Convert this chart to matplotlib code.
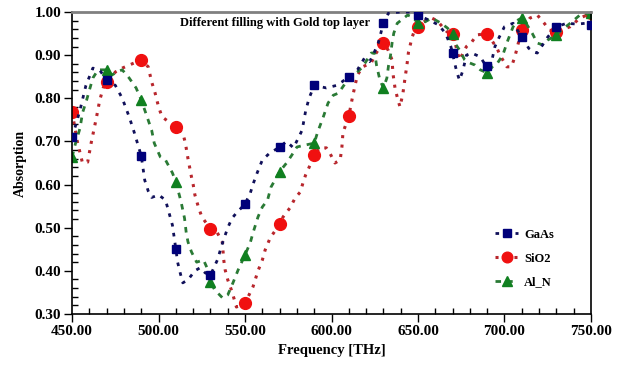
import numpy as np
import matplotlib
matplotlib.use("Agg")
from matplotlib import pyplot as plt
from matplotlib.ticker import MultipleLocator, FormatStrFormatter

# data (frequency in THz, absorption)
gaas_f = [450, 453, 455, 458, 462, 466, 470, 475, 479, 483, 486, 490, 492, 494, 496,
          500, 504, 506, 508, 510, 511, 512.5, 514, 517, 521, 524, 527, 530, 534, 537,
          540, 542.5, 545, 550, 553, 555, 557, 560, 564, 570, 574, 578, 583, 585, 587,
          590, 597, 603, 606, 610, 615, 619, 622, 624, 627, 628.5, 630, 633, 640, 646,
          650, 657, 662, 666, 669, 670, 671, 672.5, 674, 676, 678, 681, 686, 689, 690,
          691, 693, 694.5, 697, 700, 705, 710, 712, 714, 717, 719, 725, 730, 736, 742,
          747, 750]
gaas_v = [0.71, 0.75, 0.78, 0.83, 0.87, 0.865, 0.842, 0.83, 0.80, 0.757, 0.72, 0.666, 0.61, 0.585, 0.57,
          0.576, 0.564, 0.535, 0.506, 0.45, 0.42, 0.395, 0.372, 0.379, 0.40, 0.407, 0.395, 0.39, 0.425, 0.465,
          0.50, 0.522, 0.534, 0.555, 0.58, 0.605, 0.627, 0.657, 0.672, 0.687, 0.70, 0.685, 0.726, 0.77, 0.80,
          0.83, 0.824, 0.83, 0.838, 0.85, 0.866, 0.893, 0.885, 0.90, 0.928, 0.951, 0.975, 0.998, 1.0, 1.0,
          0.993, 0.98, 0.97, 0.95, 0.92, 0.905, 0.885, 0.86, 0.842, 0.865, 0.90, 0.905, 0.896, 0.877, 0.875,
          0.86, 0.893, 0.92, 0.942, 0.966, 0.974, 0.942, 0.93, 0.916, 0.907, 0.905, 0.942, 0.966, 0.974, 0.972,
          0.974, 0.97]

sio2_f = [450, 453, 456, 459, 461, 464, 466, 468, 470, 473, 475, 479, 483, 490, 494,
          496, 498, 500, 502, 510, 514, 515.5, 517, 519, 520, 521, 523, 525, 530, 534,
          537, 537.5, 538.5, 540, 542.5, 545, 550, 554.6, 557.5, 560, 561.6, 564.5, 570, 572,
          576, 579, 582, 583.5, 585, 587.6, 590, 593, 597, 599, 602, 605, 606, 606.6,
          610, 612, 613.6, 615, 618, 623, 625, 627, 630, 632.7, 635, 635.5, 636.7, 638.4,
          639.6, 641.3, 642.5, 643.6, 644.5, 646.5, 648, 650, 653, 658, 661, 666.8, 670,
          674, 678, 681, 684, 690, 695.7, 697.4, 701.4, 704, 706, 707, 708, 710, 714.7,
          719, 723, 726, 730, 738, 743.6, 750]
sio2_v = [0.768, 0.70, 0.65, 0.652, 0.696, 0.754, 0.796, 0.824, 0.838, 0.85, 0.861, 0.870, 0.877, 0.889, 0.873,
          0.838, 0.812, 0.78, 0.757, 0.733, 0.72, 0.696, 0.66, 0.618, 0.60, 0.576, 0.548, 0.525, 0.497, 0.488,
          0.465, 0.43, 0.402, 0.379, 0.351, 0.316, 0.325, 0.363, 0.40, 0.425, 0.448, 0.476, 0.508, 0.525,
          0.546, 0.569, 0.583, 0.604, 0.622, 0.645, 0.668, 0.685, 0.685, 0.673, 0.65, 0.657, 0.687, 0.72,
          0.759, 0.80, 0.83, 0.854, 0.873, 0.882, 0.90, 0.912, 0.928, 0.912, 0.889, 0.858, 0.824, 0.796,
          0.78, 0.812, 0.847, 0.877, 0.907, 0.94, 0.958, 0.965, 0.977, 0.986, 0.98, 0.954, 0.95,
          0.889, 0.92, 0.93, 0.947, 0.95, 0.916, 0.90, 0.873, 0.873, 0.896, 0.912, 0.928, 0.958, 0.986,
          0.993, 0.974, 0.958, 0.954, 0.966, 0.986, 0.997]

aln_f = [450, 452, 454.6, 456, 458.4, 460, 462, 465, 470, 473, 476, 479, 483, 487, 490,
         493, 496, 497.5, 501, 504, 508, 510, 511.5, 513, 515, 516, 517, 519, 522, 526,
         528, 530, 532.4, 537, 540, 543, 546, 550, 553, 554.6, 557.5, 560, 563, 565, 570,
         574, 577, 580, 583, 590, 592, 595, 598, 601, 604, 608, 611, 615, 618, 623,
         625, 626, 628, 630, 632, 633, 634, 635, 636, 638, 644, 647, 650, 653, 658,
         663, 667, 670, 672, 674, 677, 678.6, 683, 686, 690, 693, 696, 699, 702, 705,
         708, 710, 712, 716, 719, 722, 725, 730, 733, 738, 743.6, 750]
aln_v = [0.664, 0.696, 0.731, 0.766, 0.796, 0.819, 0.847, 0.866, 0.866, 0.854, 0.861, 0.866, 0.847, 0.824, 0.796,
         0.761, 0.726, 0.696, 0.664, 0.657, 0.627, 0.606, 0.583, 0.56, 0.522, 0.488, 0.467, 0.444, 0.42, 0.425,
         0.407, 0.374, 0.356, 0.337, 0.344, 0.372, 0.402, 0.437, 0.465, 0.488, 0.525, 0.548, 0.564, 0.594, 0.63,
         0.65, 0.668, 0.687, 0.69, 0.696, 0.722, 0.754, 0.789, 0.807, 0.812, 0.835, 0.847, 0.861, 0.873, 0.905,
         0.905, 0.877, 0.842, 0.824, 0.847, 0.877, 0.896, 0.928, 0.951, 0.974, 0.993, 0.988, 0.974, 0.975, 0.986,
         0.975, 0.963, 0.95, 0.924, 0.912, 0.889, 0.884, 0.877, 0.866, 0.859, 0.873, 0.882, 0.90, 0.935, 0.966,
         0.982, 0.986, 0.977, 0.951, 0.928, 0.924, 0.935, 0.947, 0.958, 0.974, 0.993, 0.997]

marker_freqs = list(range(450, 751, 20))

plt.rcParams['font.family'] = ['Liberation Serif', 'DejaVu Serif']
plt.rcParams['font.weight'] = 'bold'


def marks(freqs):
    # indices of the points that carry a marker
    return [i for i, f in enumerate(freqs) if f in marker_freqs]


fig = plt.figure(figsize=(6.27, 3.65), dpi=100)
ax = fig.add_axes([0.115, 0.14, 0.8275, 0.827])

ax.plot(gaas_f, gaas_v, color='#10105a', lw=2.0, linestyle=(0, (1.3, 2.3)),
        marker='s', markersize=6, markerfacecolor='#00007a', markeredgecolor='#00007a',
        markevery=marks(gaas_f), label='GaAs', zorder=3)
ax.plot(sio2_f, sio2_v, color='#b8262c', lw=2.2, linestyle=(0, (1.0, 2.1)), dash_capstyle='butt',
        marker='o', markersize=8.5, markerfacecolor='#f01010', markeredgecolor='#f01010',
        markevery=marks(sio2_f), label='SiO2', zorder=2)
ax.plot(aln_f, aln_v, color='#2a7a35', lw=2.0, linestyle=(0, (2.0, 2.2)),
        marker='^', markersize=7.5, markerfacecolor='#108020', markeredgecolor='#108020',
        markevery=marks(aln_f), label='Al_N', zorder=2.5)

ax.set_xlim(450, 750)
ax.set_ylim(0.30, 1.00)
ax.xaxis.set_major_locator(MultipleLocator(50))
ax.xaxis.set_minor_locator(MultipleLocator(10))
ax.yaxis.set_major_locator(MultipleLocator(0.1))
ax.yaxis.set_minor_locator(MultipleLocator(0.02))
ax.xaxis.set_major_formatter(FormatStrFormatter('%.2f'))
ax.yaxis.set_major_formatter(FormatStrFormatter('%.2f'))
ax.tick_params(which='major', direction='out', length=6, width=1, labelsize=11, pad=2)
ax.tick_params(which='minor', direction='in', length=4, width=1)
ax.tick_params(top=False, right=False, which='both')

for s in ['left', 'bottom', 'right']:
    ax.spines[s].set_color('black')
    ax.spines[s].set_linewidth(1.2)
ax.spines['top'].set_color('#808080')
ax.spines['top'].set_linewidth(2)

ax.set_xlabel('Frequency [THz]', fontsize=10.5, fontweight='bold', labelpad=4)
ax.set_ylabel('Absorption', fontsize=10, fontweight='bold', labelpad=5)
ax.text(0.391, 0.965, 'Different filling with Gold top layer', transform=ax.transAxes,
        ha='center', va='center', fontsize=9, fontweight='bold')

ax.legend(loc='center', bbox_to_anchor=(0.872, 0.183), frameon=False, fontsize=9,
          handlelength=1.8, handletextpad=0.5, labelspacing=0.95, markerscale=0.9)

fig.savefig('out.png', dpi=100)
